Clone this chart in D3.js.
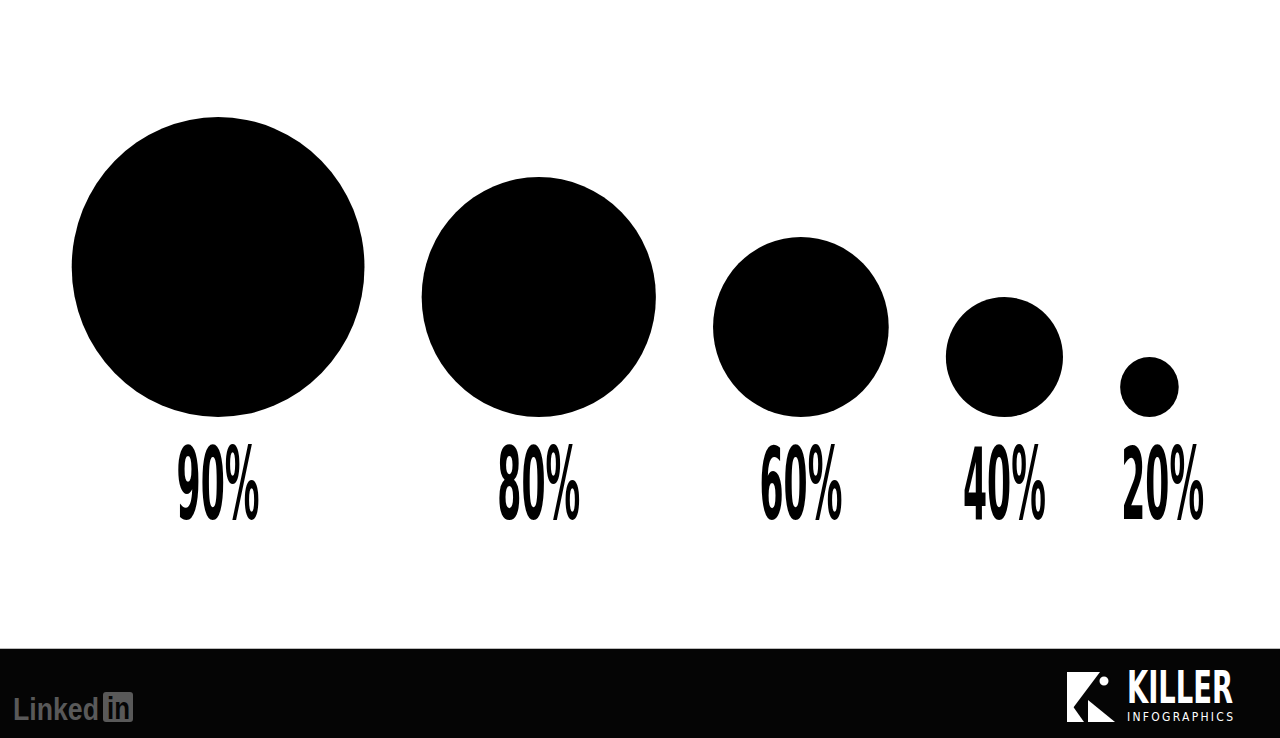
<!DOCTYPE html>
<html>
<head>
<meta charset="utf-8">
<script src="https://cdn.jsdelivr.net/npm/d3@7"></script>
<style>
  html, body { margin: 0; padding: 0; background: #fff; }
  svg { display: block; }
</style>
</head>
<body>
<div id="bubbles"></div>
<script>
// chart data
var labels = ["90%", "80%", "60%", "40%", "20%"];
var shares = [90, 80, 60, 40, 20];
// size each bubble was drawn at (the 90% bubble is drawn at full size)
var drawnSize = [100, 80, 60, 40, 20];

var width = 1280,
    height = 738,
    footerTop = 649,
    baseY = 417,        // bubbles sit on a common bottom line
    left = 71.7,
    right = 1178.7,
    squash = 0.976;     // source picture is slightly squeezed horizontally

var data = shares.map(function(d, i) {
  return { label: labels[i], share: d, size: drawnSize[i] };
});

var rScale = d3.scaleLinear().domain([0, 100]).range([0, 150]);

// lay bubbles out left to right with an even gap between them
var widths = data.map(function(d) { return 2 * rScale(d.size) * squash; });
var gap = (right - left - d3.sum(widths)) / (data.length - 1);
var x = left;
data.forEach(function(d, i) {
  d.rx = widths[i] / 2;
  d.ry = rScale(d.size);
  d.cx = x + d.rx;
  x += widths[i] + gap;
});

var svg = d3.select("#bubbles").append("svg")
    .attr("width", width)
    .attr("height", height);

svg.append("rect")
    .attr("width", width).attr("height", height)
    .attr("fill", "#fff");

svg.selectAll(".bubble")
  .data(data)
  .enter().append("ellipse")
    .attr("class", "bubble")
    .attr("cx", function(d) { return d.cx; })
    .attr("cy", function(d) { return baseY - d.ry; })
    .attr("rx", function(d) { return d.rx; })
    .attr("ry", function(d) { return d.ry; })
    .attr("fill", "#000");

// squeeze a text horizontally so it spans exactly w pixels
function fitText(sel, x0, y0, w) {
  var n = sel.node().getComputedTextLength();
  sel.attr("x", 0).attr("y", 0)
     .attr("transform", "translate(" + x0 + "," + y0 + ") scale(" + (w / n) + ",1)");
}

// labels: centred under the bubble, or flush with its left edge when wider
var labelW = 83;
svg.selectAll(".label")
  .data(data)
  .enter().append("text")
    .attr("class", "label")
    .style("font-family", "'DejaVu Sans Condensed', 'DejaVu Sans', sans-serif")
    .style("font-weight", "bold")
    .style("font-size", "99px")
    .attr("fill", "#000")
    .text(function(d) { return d.label; })
    .each(function(d) {
      var lx = (2 * d.rx >= labelW) ? d.cx - labelW / 2 : d.cx - d.rx + 1;
      fitText(d3.select(this), lx, 519, labelW);
    });

// footer bar
svg.append("rect")
    .attr("x", 0).attr("y", footerTop - 1)
    .attr("width", width).attr("height", 1)
    .attr("fill", "#bbb");
svg.append("rect")
    .attr("x", 0).attr("y", footerTop)
    .attr("width", width).attr("height", height - footerTop)
    .attr("fill", "#050505");

// LinkedIn mark
var li = svg.append("g").attr("fill", "#595959");
fitText(li.append("text")
    .style("font-family", "'Liberation Sans', Arial, sans-serif")
    .style("font-weight", "bold")
    .style("font-size", "31px")
    .text("Linked"), 13, 720, 86);
li.append("rect")
    .attr("x", 103).attr("y", 692)
    .attr("width", 30).attr("height", 30)
    .attr("rx", 3);
fitText(li.append("text")
    .attr("fill", "#050505")
    .style("font-family", "'Liberation Sans', Arial, sans-serif")
    .style("font-weight", "bold")
    .style("font-size", "31px")
    .text("in"), 107, 719, 23);

// Killer Infographics mark
var ki = svg.append("g").attr("fill", "#fff");
ki.append("path").attr("d", "M1067,672 L1100,672 L1067,716 Z");
ki.append("path").attr("d", "M1088,700 L1115,722 L1088,722 Z");
ki.append("path").attr("d", "M1067,722 L1084,722 L1067,698 Z");
ki.append("circle")
    .attr("cx", 1104).attr("cy", 681).attr("r", 5.5)
    .attr("fill", "#fff").attr("stroke", "#050505").attr("stroke-width", 2);
fitText(ki.append("text")
    .style("font-family", "'DejaVu Sans Condensed', 'DejaVu Sans', sans-serif")
    .style("font-weight", "bold")
    .style("font-size", "45px")
    .text("KILLER"), 1127, 703, 106);
ki.append("text")
    .attr("x", 1127).attr("y", 721)
    .attr("textLength", 106)
    .attr("lengthAdjust", "spacing")
    .style("font-family", "'DejaVu Sans Condensed', 'DejaVu Sans', sans-serif")
    .style("font-size", "12px")
    .text("INFOGRAPHICS");
</script>
</body>
</html>
